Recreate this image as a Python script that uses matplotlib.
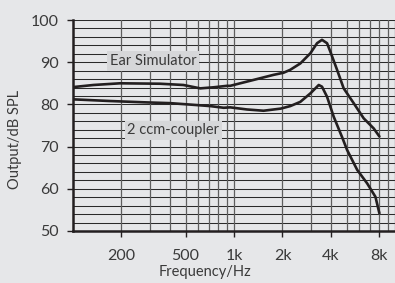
import numpy as np
import pandas as pd
import matplotlib
matplotlib.use("Agg")
import matplotlib.pyplot as plt
from matplotlib.ticker import FixedLocator, NullFormatter

# values
ear_freq = [100, 134, 196, 347, 485, 617, 745, 904, 947, 1203, 1526, 1760, 2030,
            2236, 2581, 2979, 3280, 3520, 3785, 3966, 4366, 4800, 5536, 6390,
            7377, 8000]
ear_spl = [84.1, 84.6, 85.0, 84.9, 84.6, 83.8, 84.05, 84.4, 84.4, 85.4, 86.4,
           87.0, 87.5, 88.2, 89.7, 92.1, 94.5, 95.3, 94.5, 92.5, 88.2, 83.8,
           80.3, 76.7, 74.3, 72.4]

ccm_freq = [100, 170, 274, 401, 560, 711, 863, 947, 1203, 1526, 1950, 2236,
            2581, 2979, 3360, 3520, 3785, 4160, 4720, 5040, 5820, 6710, 7560,
            8000]
ccm_spl = [81.2, 80.8, 80.5, 80.3, 79.9, 79.6, 79.2, 79.3, 78.8, 78.5, 79.0,
           79.6, 80.6, 82.6, 84.6, 84.2, 81.8, 77.1, 72.0, 69.2, 64.5, 61.3,
           58.1, 54.2]

x_ticks = [200, 500, 1000, 2000, 4000, 8000]
x_tick_labels = ["200", "500", "1k", "2k", "4k", "8k"]
y_ticks = [50, 60, 70, 80, 90, 100]

BG = "#e6e7e9"
INK = "#231f20"
TXT = "#3a3a3a"


def main():
    plt.rcParams["font.family"] = ["Lato", "DejaVu Sans"]

    ear = pd.DataFrame({"f": ear_freq, "spl": ear_spl})
    ccm = pd.DataFrame({"f": ccm_freq, "spl": ccm_spl})

    fig = plt.figure(figsize=(3.95, 2.83), dpi=100, facecolor=BG)
    ax = fig.add_axes([73 / 395, 52 / 283, 1 - 73 / 395, 211 / 283])
    ax.set_facecolor(BG)
    ax.set_xscale("log")
    ax.set_xlim(100, 10000)
    ax.set_ylim(50, 100)

    # grid: every 2 dB, every 100/1000 Hz
    for v in np.arange(52, 101, 2):
        ax.axhline(v, color="#2a2a2a", lw=0.75, zorder=1)
    minors = list(range(200, 1000, 100)) + list(range(1000, 10001, 1000))
    for v in minors:
        ax.axvline(v, color="#5e5e5e", lw=0.9, zorder=1)

    ax.plot(ear["f"], ear["spl"], color=INK, lw=1.9, zorder=3,
            solid_capstyle="round", solid_joinstyle="round")
    ax.plot(ccm["f"], ccm["spl"], color=INK, lw=1.9, zorder=3,
            solid_capstyle="round", solid_joinstyle="round")

    box = dict(boxstyle="square,pad=0.18", facecolor="#d6d7d9", edgecolor="none")
    ax.text(315, 90.3, "Ear Simulator", ha="center", va="center",
            fontsize=10.5, color=TXT, bbox=box, zorder=4)
    ax.text(420, 73.9, "2 ccm-coupler", ha="center", va="center",
            fontsize=10.5, color=TXT, bbox=box, zorder=4)

    ax.xaxis.set_major_locator(FixedLocator(x_ticks))
    ax.set_xticklabels(x_tick_labels)
    ax.xaxis.set_minor_locator(FixedLocator([]))
    ax.xaxis.set_minor_formatter(NullFormatter())
    ax.set_yticks(y_ticks)
    ax.tick_params(axis="both", direction="out", length=4, width=1,
                   color=INK, labelsize=11.5, labelcolor=TXT)
    ax.tick_params(axis="x", pad=9)
    ax.tick_params(axis="y", pad=6)

    for s in ["top", "right"]:
        ax.spines[s].set_visible(False)
    for s in ["left", "bottom"]:
        ax.spines[s].set_linewidth(1.8)
        ax.spines[s].set_color(INK)
        ax.spines[s].set_zorder(5)

    fig.text(205 / 395, 1 - 272 / 283, "Frequency/Hz", ha="center", va="center",
             fontsize=10.5, color=TXT)
    fig.text(15 / 395, 1 - 139 / 283, "Output/dB SPL", ha="center", va="center",
             rotation=90, fontsize=10.5, color=TXT)

    fig.savefig("out.png", dpi=100, facecolor=BG)


if __name__ == "__main__":
    main()
